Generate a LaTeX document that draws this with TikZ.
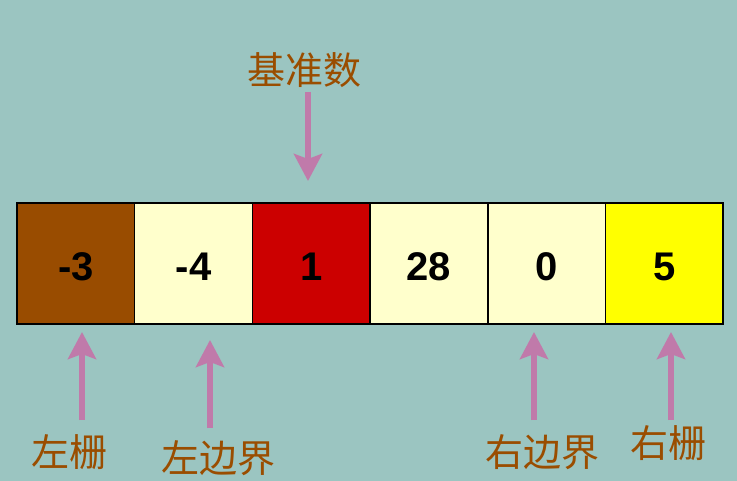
\documentclass[tikz,border=0pt]{standalone}
\usepackage{fontspec}
\usepackage{tikz}
\usepackage{xcolor}
\usetikzlibrary{arrows.meta, positioning}
\setmainfont{Liberation Sans}
\newfontfamily\songti{Noto Sans CJK SC}

\definecolor{bgteal}{HTML}{9BC5C1}
\definecolor{cellbrown}{HTML}{994C00}
\definecolor{cellcream}{HTML}{FFFFCC}
\definecolor{cellred}{HTML}{CC0000}
\definecolor{cellyellow}{HTML}{FFFF00}
\definecolor{labelbrown}{HTML}{9A4D00}
\definecolor{pointerpink}{HTML}{C07AAA}

\begin{document}
\begin{tikzpicture}[x=1pt, y=-1pt, node distance=0pt,
    cell/.style={draw=black, line width=1.5pt, minimum width=117.7pt, minimum height=121pt,
        inner sep=0pt, outer sep=0pt, text height=34pt, text depth=0pt,
        font=\fontsize{40}{40}\selectfont\bfseries},
    tag/.style={text=labelbrown, inner sep=0pt, font=\songti\fontsize{38}{38}\selectfont},
    pointer/.style={draw=pointerpink, line width=6pt,
        -{Stealth[length=27pt, width=28pt, inset=5pt]}}]
    % Background
    \fill[bgteal] (0,0) rectangle (737,481);
    \useasboundingbox (0,0) rectangle (737,481);

    % Cells
    \node[cell, fill=cellbrown, anchor=north west] (c1) at (17,203) {-3};
    \node[cell, fill=cellcream, right=of c1] (c2) {-4};
    \node[cell, fill=cellred, right=of c2] (c3) {1};
    \node[cell, fill=cellcream, right=of c3] (c4) {28};
    \node[cell, fill=cellcream, right=of c4] (c5) {0};
    \node[cell, fill=cellyellow, right=of c5] (c6) {5};

    % Labels
    \node[tag] (pivot) at (304,70) {基准数};
    \node[tag] (lfence) at (69,452) {左栅};
    \node[tag] (lbound) at (218,458) {左边界};
    \node[tag] (rbound) at (542,452) {右边界};
    \node[tag] (rfence) at (668,443) {右栅};

    % Arrow ends
    \coordinate (ptail) at (308,92);
    \coordinate (ptip) at (308,181);
    \coordinate (lftail) at (82,420);
    \coordinate (lftip) at (82,332);
    \coordinate (lbtail) at (210,428);
    \coordinate (lbtip) at (210,340);
    \coordinate (rbtail) at (534,420);
    \coordinate (rbtip) at (534,332);
    \coordinate (rftail) at (671,420);
    \coordinate (rftip) at (671,332);

    % Pointers
    \draw[pointer] (ptail) -- (ptip);
    \draw[pointer] (lftail) -- (lftip);
    \draw[pointer] (lbtail) -- (lbtip);
    \draw[pointer] (rbtail) -- (rbtip);
    \draw[pointer] (rftail) -- (rftip);
\end{tikzpicture}
\end{document}
